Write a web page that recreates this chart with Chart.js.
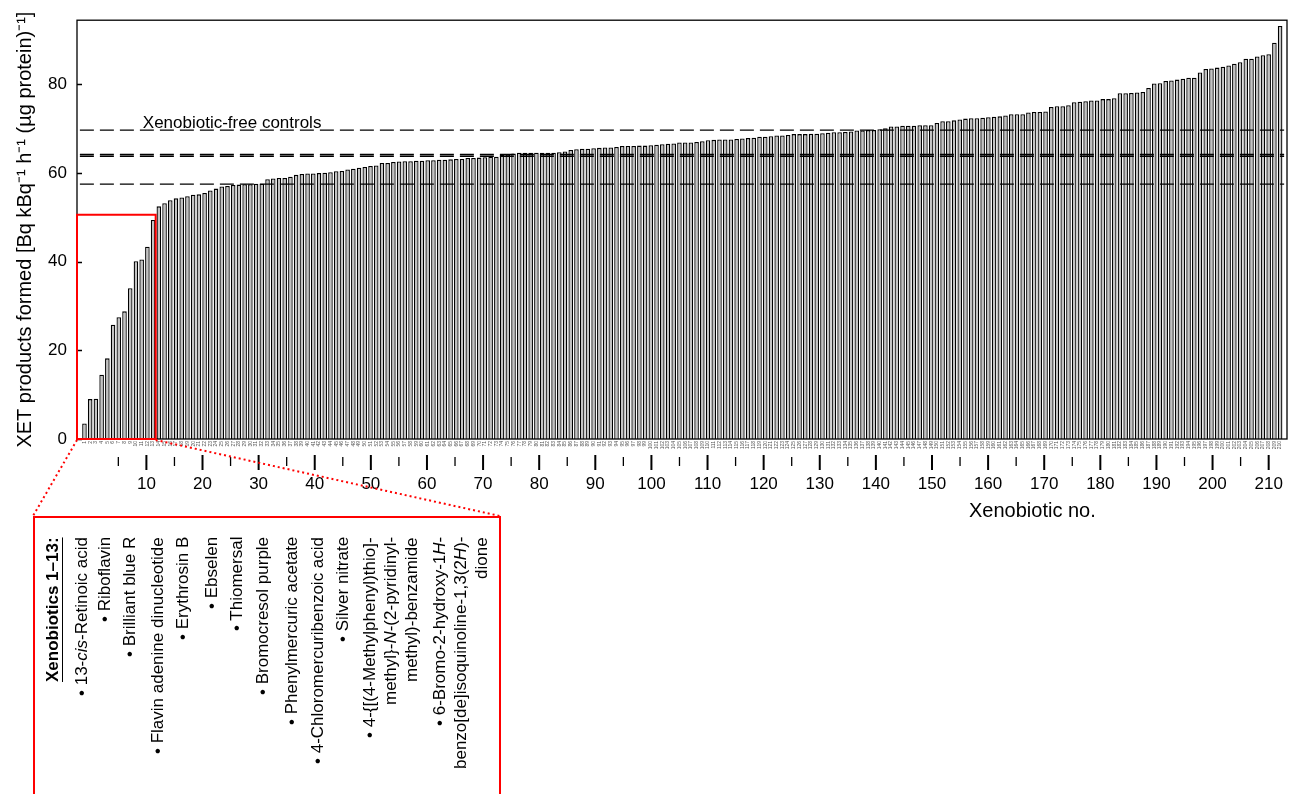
<!DOCTYPE html>
<html lang="en">
  <head>
    <meta charset="utf-8" />
    <title>XET products formed in the presence of xenobiotics</title>
    <style>
      * {
        margin: 0;
        padding: 0;
        box-sizing: border-box;
      }
      body {
        width: 1298px;
        height: 794px;
        overflow: hidden;
        position: relative;
        background: #ffffff;
        color: #000000;
        font-family: "Liberation Sans", Arial, sans-serif;
      }
      #chart {
        position: absolute;
        left: 0;
        top: 0;
      }
      .axis-name {
        position: absolute;
        left: 969px;
        top: 499px;
        font-size: 20px;
        line-height: 22px;
      }
      .list-box {
        position: absolute;
        left: 33px;
        top: 516px;
        width: 468px;
        height: 300px;
        border: 2px solid #ff0000;
      }
      .entry {
        position: absolute;
        top: 537px;
        height: 250px;
        writing-mode: vertical-rl;
        transform: rotate(180deg);
        text-align: end;
        font-size: 17px;
        line-height: 21px;
        white-space: nowrap;
      }
      .entry.head {
        font-weight: bold;
        text-decoration: underline;
      }
    </style>
  </head>
  <body>
    <canvas id="chart" width="1298" height="794"></canvas>
    <div class="axis-name">Xenobiotic no.</div>

    <!-- names of the 13 strongest inhibitors -->
    <div class="list-box"></div>
    <div class="entry head" style="left: 42px">Xenobiotics 1–13:</div>
    <div class="entry" style="left: 71px">• 13-<i>cis</i>-Retinoic acid</div>
    <div class="entry" style="left: 94px">• Riboflavin</div>
    <div class="entry" style="left: 119px">• Brilliant blue R</div>
    <div class="entry" style="left: 147px">• Flavin adenine dinucleotide</div>
    <div class="entry" style="left: 172px">• Erythrosin B</div>
    <div class="entry" style="left: 201px">• Ebselen</div>
    <div class="entry" style="left: 226px">• Thiomersal</div>
    <div class="entry" style="left: 252px">• Bromocresol purple</div>
    <div class="entry" style="left: 281px">• Phenylmercuric acetate</div>
    <div class="entry" style="left: 307px">• 4-Chloromercuribenzoic acid</div>
    <div class="entry" style="left: 332px">• Silver nitrate</div>
    <div class="entry" style="left: 359px">• 4-{[(4-Methylphenyl)thio]-<br />methyl}-<i>N</i>-(2-pyridinyl-<br />methyl)-benzamide</div>
    <div class="entry" style="left: 429px">• 6-Bromo-2-hydroxy-1<i>H</i>-<br />benzo[de]isoquinoline-1,3(2<i>H</i>)-<br />dione</div>

    <script src="https://cdn.jsdelivr.net/npm/chart.js@4.4.1/dist/chart.umd.min.js"></script>
    <script>
      // XET activity with each xenobiotic, sorted ascending (xenobiotic no. 1..210)
      const xetValues = [
        3.5, 9.0, 9.1, 14.5, 18.2, 25.8, 27.5, 28.8, 34.0, 40.1, 40.5, 43.4, 49.4,
        52.5, 53.2, 53.9, 54.3, 54.5, 54.8, 55.1, 55.2, 55.5, 56.1,
        56.5, 57.0, 57.1, 57.3, 57.4, 57.5, 57.5, 57.6, 57.6, 58.6,
        58.8, 58.9, 58.9, 59.2, 59.6, 59.8, 59.9, 59.9, 60.0, 60.1,
        60.2, 60.4, 60.5, 60.8, 61.0, 61.2, 61.4, 61.6, 61.7, 62.3,
        62.3, 62.5, 62.6, 62.7, 62.7, 62.8, 62.8, 62.9, 62.9, 63.0,
        63.0, 63.1,
        63.2, 63.2, 63.4, 63.4, 63.5, 63.6, 63.7, 63.7, 64.1, 64.2,
        64.4, 64.6, 64.6, 64.6, 64.6, 64.6, 64.6, 64.6, 64.7, 64.9,
        65.2, 65.4, 65.5, 65.5, 65.6, 65.7, 65.8, 65.8, 65.9, 66.1,
        66.1, 66.1, 66.2, 66.2, 66.3, 66.4, 66.5, 66.6, 66.7, 66.9,
        66.9, 66.9, 67.0, 67.2, 67.4, 67.5, 67.6, 67.6, 67.6, 67.7,
        67.8, 67.9, 68.0, 68.2, 68.2, 68.3,
        68.5, 68.5, 68.6, 68.8, 68.8, 68.8, 68.9, 68.9, 69.0, 69.1,
        69.2, 69.2, 69.3, 69.4, 69.6, 69.6, 69.7, 69.7, 69.9, 70.1,
        70.5, 70.5, 70.7, 70.7, 70.7, 70.8, 70.8, 70.8, 71.3, 71.7,
        71.7, 71.9, 72.1, 72.3, 72.4, 72.4, 72.5, 72.6, 72.7, 72.8,
        73.0, 73.3, 73.3, 73.3, 73.7,
        73.8, 73.8, 73.9, 74.9, 75.1, 75.1, 75.3, 76.0, 76.1, 76.2,
        76.4, 76.4, 76.7, 76.7, 76.9, 78.0, 78.0, 78.1, 78.2, 78.3,
        79.2, 80.2, 80.3, 80.8, 80.9, 81.1, 81.3, 81.5, 81.5, 82.7,
        83.5, 83.6, 83.8, 84.0, 84.3, 84.7, 85.0, 85.8, 85.8, 86.3,
        86.6, 86.8, 89.4, 93.2,
      ];
      const xenobioticNo = xetValues.map((_, i) => i + 1);

      // xenobiotic-free controls (dashed lines)
      const controlLevels = [69.7, 64.2, 63.8, 57.5];

      const xMin = 0.2;
      const xMax = 210.7;
      const yMax = 94.5;
      // the boxed group: xenobiotics 1-13
      const highlightEnd = 13.45;
      const highlightTop = 50.6;

      const fontFamily = '"Liberation Sans", Arial, sans-serif';
      Chart.defaults.font.family = fontFamily;
      Chart.defaults.color = "#000000";

      const barData = xenobioticNo.map((n, i) => ({ x: n, y: xetValues[i] }));
      const controlSets = controlLevels.map((level) => ({
        type: "line",
        data: [
          { x: xMin, y: level },
          { x: xMax, y: level },
        ],
        borderColor: "#000000",
        borderWidth: 1.4,
        borderDash: [14, 6],
        pointRadius: 0,
        order: 1,
      }));

      // frame, inward y ticks, x tick marks, red box with dotted leaders, control label
      const frameAndNotes = {
        id: "frameAndNotes",
        afterDatasetsDraw(chart) {
          const { ctx, chartArea: a, scales } = chart;
          const x = scales.x;
          const y = scales.y;
          const x2 = scales.x2;
          ctx.save();
          ctx.strokeStyle = "#000000";
          ctx.lineWidth = 1.3;
          ctx.strokeRect(a.left, a.top, a.right - a.left, a.bottom - a.top);
          ctx.beginPath();
          y.ticks.forEach((t) => {
            const py = Math.round(y.getPixelForValue(t.value)) + 0.5;
            ctx.moveTo(a.left, py);
            ctx.lineTo(a.left + 5, py);
          });
          ctx.stroke();

          // detached tick marks below the number row: long at tens, short at fives
          x2.ticks.forEach((t) => {
            const px = x2.getPixelForValue(t.value);
            const major = t.value % 10 === 0;
            ctx.lineWidth = major ? 2 : 1.3;
            ctx.beginPath();
            ctx.moveTo(px, x2.top + (major ? 0 : 2));
            ctx.lineTo(px, x2.top + (major ? 15 : 11));
            ctx.stroke();
          });

          ctx.font = "17px " + fontFamily;
          ctx.fillStyle = "#000000";
          ctx.textBaseline = "alphabetic";
          ctx.fillText(
            "Xenobiotic-free controls",
            x.getPixelForValue(11.2),
            y.getPixelForValue(controlLevels[0]) - 2
          );

          const rx = x.getPixelForValue(highlightEnd);
          const ry = y.getPixelForValue(highlightTop);
          ctx.strokeStyle = "#ff0000";
          ctx.lineWidth = 2;
          ctx.strokeRect(a.left, ry, rx - a.left, a.bottom - ry);
          ctx.setLineDash([2, 3]);
          ctx.beginPath();
          ctx.moveTo(a.left, a.bottom + 1);
          ctx.lineTo(33, 516);
          ctx.moveTo(rx, a.bottom + 1);
          ctx.lineTo(500, 516);
          ctx.stroke();
          ctx.restore();
        },
      };

      new Chart(document.getElementById("chart"), {
        type: "bar",
        data: {
          datasets: [
            {
              data: barData,
              backgroundColor: "#c2c2c2",
              borderColor: "#000000",
              borderWidth: 1.3,
              categoryPercentage: 1,
              barPercentage: 0.8,
              order: 2,
            },
            ...controlSets,
          ],
        },
        options: {
          responsive: false,
          animation: false,
          devicePixelRatio: 1,
          layout: { padding: { left: 0, top: 18, right: 11, bottom: 294 } },
          plugins: {
            legend: { display: false },
            tooltip: { enabled: false },
          },
          scales: {
            x: {
              type: "linear",
              position: "bottom",
              weight: 0,
              min: xMin,
              max: xMax,
              grid: { display: false, drawTicks: false },
              border: { display: false },
              ticks: {
                stepSize: 1,
                includeBounds: false,
                autoSkip: false,
                minRotation: 90,
                maxRotation: 90,
                padding: 2,
                color: "#555555",
                font: { size: 5 },
              },
              afterFit: (scale) => {
                scale.height = 16;
              },
            },
            x2: {
              type: "linear",
              axis: "x",
              position: "bottom",
              weight: 1,
              min: xMin,
              max: xMax,
              // tick marks are drawn by the plugin; this only reserves their room
              grid: {
                display: true,
                drawOnChartArea: false,
                drawTicks: true,
                tickLength: 14,
                color: "rgba(0,0,0,0)",
              },
              border: { display: false },
              ticks: {
                stepSize: 5,
                includeBounds: false,
                autoSkip: false,
                maxRotation: 0,
                padding: 5,
                font: { size: 17 },
                callback: (v) => (v % 10 === 0 ? String(v) : ""),
              },
              afterFit: (scale) => {
                scale.height = 45;
              },
            },
            y: {
              type: "linear",
              position: "left",
              min: 0,
              max: yMax,
              grid: { display: false, drawTicks: false },
              border: { display: false },
              ticks: {
                stepSize: 20,
                includeBounds: false,
                padding: 10,
                font: { size: 17 },
              },
              title: {
                display: true,
                text: "XET products formed [Bq kBq⁻¹ h⁻¹ (µg protein)⁻¹]",
                font: { size: 20 },
                padding: { top: 13, bottom: 0 },
              },
              afterFit: (scale) => {
                scale.width = 77;
              },
            },
          },
        },
        plugins: [frameAndNotes],
      });
    </script>
  </body>
</html>
